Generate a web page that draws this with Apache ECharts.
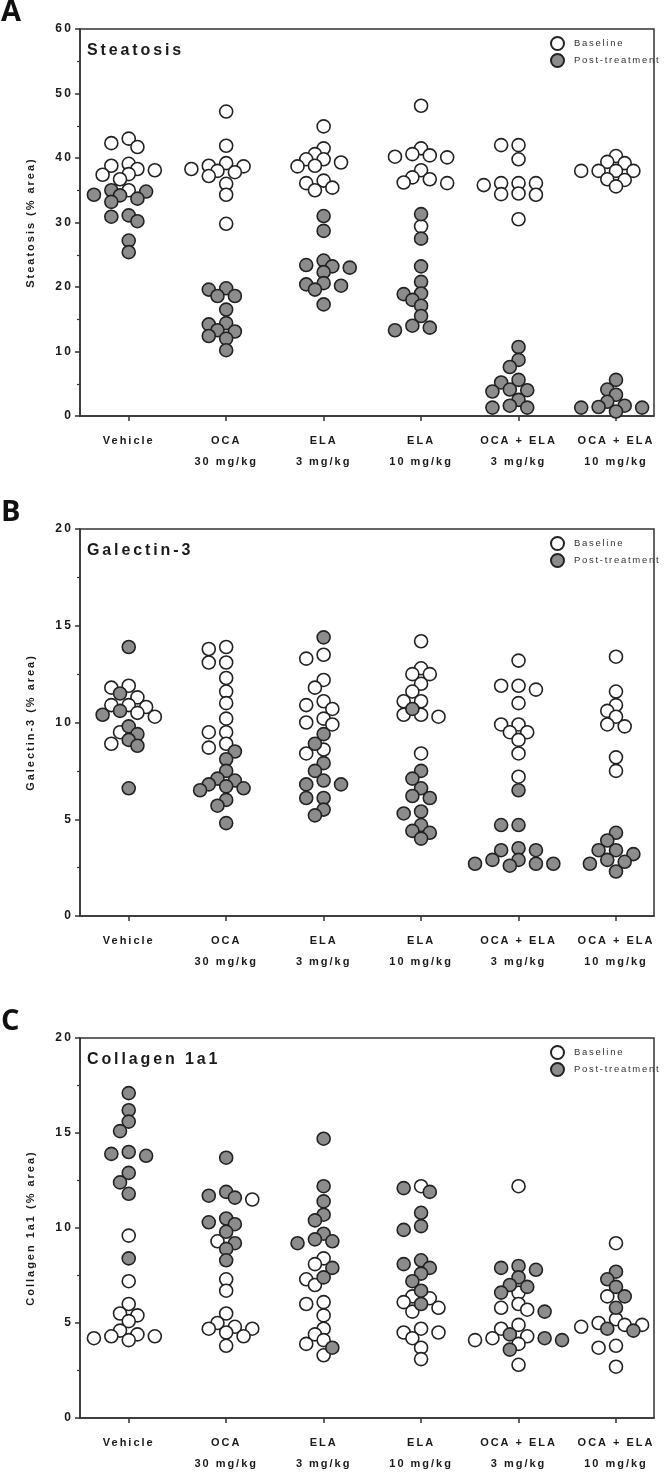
<!DOCTYPE html>
<html><head><meta charset="utf-8">
<script src="https://cdn.jsdelivr.net/npm/echarts@6/dist/echarts.min.js"></script>
<style>html,body{margin:0;padding:0;background:#fff}#c{width:666px;height:1474px}</style>
</head><body><div id="c"></div>
<script>
const categories = ['Vehicle', 'OCA\n30 mg/kg', 'ELA\n3 mg/kg', 'ELA\n10 mg/kg', 'OCA + ELA\n3 mg/kg', 'OCA + ELA\n10 mg/kg'];
const seriesNames = ['Baseline', 'Post-treatment'];
const panelTitles = ['Steatosis', 'Galectin-3', 'Collagen 1a1'];
const panelLetters = ['A', 'B', 'C'];
const yAxisNames = ['Steatosis (% area)', 'Galectin-3 (% area)', 'Collagen 1a1 (% area)'];
const yMax = [60, 20, 20];
const yInterval = [10, 5, 5];

// Panel A: Steatosis (% area)
const steatosisBaseline = [
  [43.0, 42.3, 41.7, 39.1, 38.8, 38.3, 38.1, 37.5, 37.4, 36.7, 35.0],
  [47.2, 41.9, 39.2, 38.8, 38.7, 38.3, 38.0, 37.8, 37.2, 36.0, 34.3, 29.8],
  [44.9, 41.5, 40.6, 39.8, 39.8, 39.3, 38.8, 38.7, 36.5, 36.1, 35.4, 35.0],
  [48.1, 41.5, 40.6, 40.4, 40.2, 40.1, 38.1, 37.0, 36.7, 36.2, 36.1, 29.4],
  [42.0, 42.0, 39.8, 36.1, 36.1, 36.1, 35.8, 34.5, 34.4, 34.3, 30.5],
  [40.3, 39.4, 39.2, 38.0, 38.0, 38.0, 38.0, 36.7, 36.6, 35.6]
];
const steatosisPost = [
  [35.0, 34.8, 34.3, 34.2, 33.7, 33.2, 31.1, 30.9, 30.2, 27.2, 25.4],
  [19.8, 19.6, 18.6, 18.6, 16.5, 14.4, 14.2, 13.3, 13.1, 12.4, 12.0, 10.2],
  [31.0, 28.7, 24.1, 23.4, 23.2, 23.0, 22.3, 20.6, 20.4, 20.2, 19.6, 17.3],
  [31.3, 27.5, 23.2, 20.8, 19.0, 18.9, 18.0, 17.1, 15.5, 14.0, 13.7, 13.3],
  [10.7, 8.7, 7.6, 5.6, 5.2, 4.1, 4.0, 3.8, 2.5, 1.6, 1.3, 1.3],
  [5.6, 4.1, 3.3, 2.2, 1.6, 1.4, 1.3, 1.3, 0.7]
];
// Panel B: Galectin-3 (% area)
const galectinBaseline = [
  [11.9, 11.8, 11.3, 10.9, 10.9, 10.8, 10.5, 10.3, 9.5, 8.9],
  [13.9, 13.8, 13.1, 13.1, 12.3, 11.6, 11.0, 10.2, 9.5, 9.5, 8.9, 8.7],
  [13.5, 13.3, 12.2, 11.8, 11.1, 10.9, 10.7, 10.2, 10.0, 9.9, 8.6, 8.4],
  [14.2, 12.8, 12.5, 12.5, 12.0, 11.6, 11.1, 11.1, 10.4, 10.4, 10.3, 8.4],
  [13.2, 11.9, 11.9, 11.7, 11.0, 9.9, 9.9, 9.5, 9.5, 9.1, 8.4, 7.2],
  [13.4, 11.6, 10.9, 10.6, 10.3, 9.9, 9.8, 8.2, 7.5]
];
const galectinPost = [
  [13.9, 11.5, 10.6, 10.4, 9.8, 9.4, 9.1, 8.8, 6.6],
  [8.5, 8.1, 7.5, 7.1, 7.0, 6.8, 6.7, 6.6, 6.5, 6.0, 5.7, 4.8],
  [14.4, 9.4, 8.9, 7.9, 7.5, 7.0, 6.8, 6.8, 6.1, 6.1, 5.5, 5.2],
  [10.7, 7.5, 7.1, 6.6, 6.2, 6.1, 5.4, 5.3, 4.7, 4.4, 4.3, 4.0],
  [6.5, 4.7, 4.7, 3.5, 3.4, 3.4, 2.9, 2.9, 2.7, 2.7, 2.7, 2.6],
  [4.3, 3.9, 3.4, 3.4, 3.2, 2.9, 2.8, 2.7, 2.3]
];
// Panel C: Collagen 1a1 (% area)
const collagenBaseline = [
  [9.6, 7.2, 6.0, 5.5, 5.4, 5.1, 4.6, 4.4, 4.3, 4.3, 4.2, 4.1],
  [11.5, 9.3, 7.3, 6.7, 5.5, 5.0, 4.8, 4.7, 4.7, 4.5, 4.3, 3.8],
  [8.4, 8.1, 7.3, 7.0, 6.1, 6.0, 5.4, 4.7, 4.4, 4.1, 3.9, 3.3],
  [12.2, 6.4, 6.3, 6.1, 5.8, 5.6, 4.7, 4.5, 4.5, 4.2, 3.7, 3.1],
  [12.2, 6.6, 6.0, 5.8, 5.7, 4.9, 4.7, 4.3, 4.2, 4.1, 3.9, 2.8],
  [9.2, 6.4, 5.2, 5.0, 4.9, 4.9, 4.8, 3.8, 3.7, 2.7]
];
const collagenPost = [
  [17.1, 16.2, 15.6, 15.1, 14.0, 13.9, 13.8, 12.9, 12.4, 11.8, 8.4],
  [13.7, 11.9, 11.7, 11.6, 10.5, 10.3, 10.2, 9.8, 9.2, 8.9, 8.3],
  [14.7, 12.2, 11.4, 10.7, 10.4, 9.7, 9.4, 9.3, 9.2, 7.9, 7.4, 3.7],
  [12.1, 11.9, 10.8, 10.1, 9.9, 8.3, 8.1, 7.9, 7.6, 7.2, 6.7, 6.0],
  [8.0, 7.9, 7.8, 7.4, 7.0, 6.9, 6.6, 5.6, 4.4, 4.2, 4.1, 3.6],
  [7.7, 7.3, 6.9, 6.4, 5.8, 4.7, 4.6]
];

const panels = [
  [steatosisBaseline, steatosisPost],
  [galectinBaseline, galectinPost],
  [collagenBaseline, collagenPost]
];

// widen character spacing of canvas text, like the reference's spaced lettering
(function () {
  const P = window.CanvasRenderingContext2D && CanvasRenderingContext2D.prototype;
  if (!P || !('letterSpacing' in P)) return;
  const setLS = ctx => {
    const m = /(\d+(?:\.\d+)?)px/.exec(ctx.font);
    const fs = m ? parseFloat(m[1]) : 12;
    ctx.letterSpacing = fs >= 24 ? '0px' : (fs * 0.18).toFixed(2) + 'px';
  };
  const f = P.fillText, s = P.strokeText, mt = P.measureText;
  P.fillText = function () { setLS(this); return f.apply(this, arguments); };
  P.strokeText = function () { setLS(this); return s.apply(this, arguments); };
  P.measureText = function () { setLS(this); return mt.apply(this, arguments); };
})();

const gridTops = [29, 529, 1038];
const gridH = 387, gridLeft = 80, gridW = 574;
const FONT = '"Liberation Sans", Arial, sans-serif';
const INK = '#1a1a1a';
const SYM = 13;

const chart = echarts.init(document.getElementById('c'), null, { renderer: 'canvas' });

function baseOption() {
  const grid = [], xAxis = [], yAxis = [], series = [], legend = [], graphic = [];
  for (let g = 0; g < 3; g++) {
    grid.push({ left: gridLeft, top: gridTops[g], width: gridW, height: gridH, show: true,
      borderColor: '#333', borderWidth: 1.5, backgroundColor: 'transparent' });
    const ticks = categories.map((_, i) => i);
    xAxis.push({ type: 'value', gridIndex: g, min: -0.5, max: 5.39,
      axisLine: { show: true, onZero: false, lineStyle: { color: '#333', width: 1.5 } },
      axisTick: { show: true, length: 5, customValues: ticks, lineStyle: { color: '#333', width: 1.5 } },
      axisLabel: { customValues: ticks, formatter: v => categories[Math.round(v)], color: INK,
        fontFamily: FONT, fontWeight: 'bold', fontSize: 11, lineHeight: 21, margin: 14 },
      splitLine: { show: false } });
    yAxis.push({ type: 'value', gridIndex: g, min: 0, max: yMax[g], interval: yInterval[g],
      name: yAxisNames[g], nameLocation: 'middle', nameGap: 43,
      nameTextStyle: { color: INK, fontFamily: FONT, fontWeight: 'bold', fontSize: 11 },
      axisLine: { show: true, onZero: false, lineStyle: { color: '#333', width: 1.5 } },
      axisTick: { show: true, length: 5, lineStyle: { color: '#333', width: 1.5 } },
      minorTick: { show: true, splitNumber: 2, length: 3, lineStyle: { color: '#333', width: 1.2 } },
      axisLabel: { color: INK, fontFamily: FONT, fontWeight: 'bold', fontSize: 12, margin: 7 },
      splitLine: { show: false } });
    legend.push({ orient: 'vertical', left: 550, top: gridTops[g] + 7, padding: 0, itemWidth: SYM, itemHeight: SYM,
      itemGap: 2, icon: 'circle', data: seriesNames, selectedMode: false,
      textStyle: { color: '#333', fontFamily: FONT, fontSize: 9.5, padding: [0, 0, 0, 5] } });
    seriesNames.forEach((nm, s) => {
      series.push({ type: 'scatter', name: nm, xAxisIndex: g, yAxisIndex: g, symbol: 'circle',
        symbolSize: SYM, data: [],
        itemStyle: { color: s === 0 ? '#ffffff' : '#8c8c8c', borderColor: '#222', borderWidth: 1.6, opacity: 1 },
        emphasis: { disabled: true } });
    });
    graphic.push({ type: 'text', left: 1, top: gridTops[g] - 31,
      style: { text: panelLetters[g], font: 'bold 29px "Open Sans", sans-serif', fill: '#111' } });
    graphic.push({ type: 'text', left: gridLeft + 7, top: gridTops[g] + 12,
      style: { text: panelTitles[g], font: 'bold 16px ' + FONT, fill: INK } });
  }
  return { animation: false, backgroundColor: '#fff', grid, xAxis, yAxis, series, legend, graphic };
}

chart.setOption(baseOption());

// beeswarm placement: columns half a symbol apart, overlap allowed as in the reference
const STEP = 8.7, D = 10;
const order = [0, -1, 1, -2, 2, -3, 3, -4, 4, -5, 5, -6, 6];
const seriesData = [];
for (let g = 0; g < 3; g++) {
  const finder = { xAxisIndex: g, yAxisIndex: g };
  const pxPerX = chart.convertToPixel(finder, [1, 0])[0] - chart.convertToPixel(finder, [0, 0])[0];
  const out = [[], []];
  categories.forEach((_, c) => {
    const pts = [];
    panels[g].forEach((arr, s) => arr[c].forEach(v => pts.push({ v, s, py: chart.convertToPixel(finder, [c, v])[1] })));
    pts.sort((a, b) => b.v - a.v);
    const placed = [];
    pts.forEach(p => {
      let x = 0;
      for (const k of order) {
        x = k * STEP;
        if (placed.every(q => (q.x - x) ** 2 + (q.py - p.py) ** 2 >= D * D)) break;
      }
      p.x = x; placed.push(p);
      out[p.s].push([c + x / pxPerX, p.v]);
    });
  });
  seriesData.push(out[0], out[1]);
}
chart.setOption({ series: seriesData.map(d => ({ data: d })) });
</script></body></html>
